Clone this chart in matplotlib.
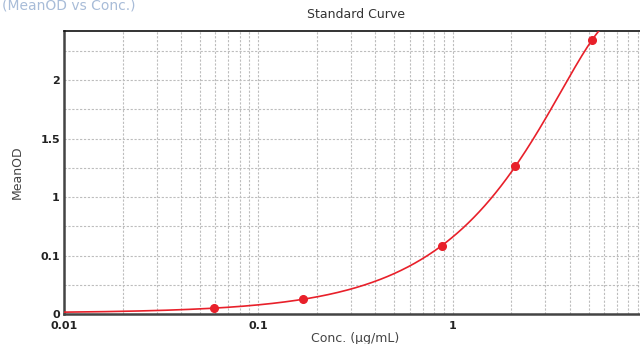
import matplotlib.pyplot as plt
import numpy as np

# Standard curve points
conc = [0.059, 0.17, 0.88, 2.1, 5.2]
mean_od = [0.051, 0.128, 0.58, 1.265, 2.34]

y_ticks = [0, 0.5, 1, 1.5, 2]
y_tick_labels = ['0', '0.1', '1', '1.5', '2']
x_ticks = [0.01, 0.1, 1, 10]
x_tick_labels = ['0.01', '0.1', '1', '10']

red = '#e8202a'

fig = plt.figure(figsize=(6.4, 3.44), dpi=100)
ax = fig.add_axes([0.1, 0.0872, 0.911, 0.8228])

# fitted curve through the points (stops where it leaves the top of the plot)
coef = np.polyfit(conc, mean_od, 2)
xs = np.logspace(-2, np.log10(6.5), 400)
ax.plot(xs, np.polyval(coef, xs), color=red, lw=1.2, zorder=3)
ax.plot(conc, mean_od, 'o', color=red, markersize=5.5, zorder=4)

ax.set_xscale('log')
ax.set_xlim(0.01, 10)
ax.set_ylim(0, 2.42)
ax.set_xticks(x_ticks)
ax.set_xticklabels(x_tick_labels)
ax.set_yticks(y_ticks)
ax.set_yticklabels(y_tick_labels)
ax.set_yticks(np.arange(0.25, 2.42, 0.5), minor=True)

ax.grid(True, which='both', color='#bdbdbd', ls=(0, (2, 1.5)), lw=0.8)
ax.tick_params(which='both', length=0)
ax.tick_params(axis='x', pad=5, labelsize=8)
ax.tick_params(axis='y', pad=3, labelsize=8)
for lab in ax.get_xticklabels() + ax.get_yticklabels():
    lab.set_fontweight('bold')
    lab.set_color('#222222')

for side in ['left', 'bottom']:
    ax.spines[side].set_color('#444444')
    ax.spines[side].set_linewidth(1.8)
ax.spines['top'].set_color('#111111')
ax.spines['top'].set_linewidth(1.2)

ax.set_title('Standard Curve', fontsize=9, color='#333333', pad=9)
ax.set_xlabel('Conc. (µg/mL)', fontsize=9, color='#444444', labelpad=1)
ax.set_ylabel('MeanOD', fontsize=9, color='#444444', labelpad=12)
fig.text(0.003, 1.005, '(MeanOD vs Conc.)', fontsize=10, color='#a8bcd8', va='top')

fig.savefig('out.png', dpi=100)
